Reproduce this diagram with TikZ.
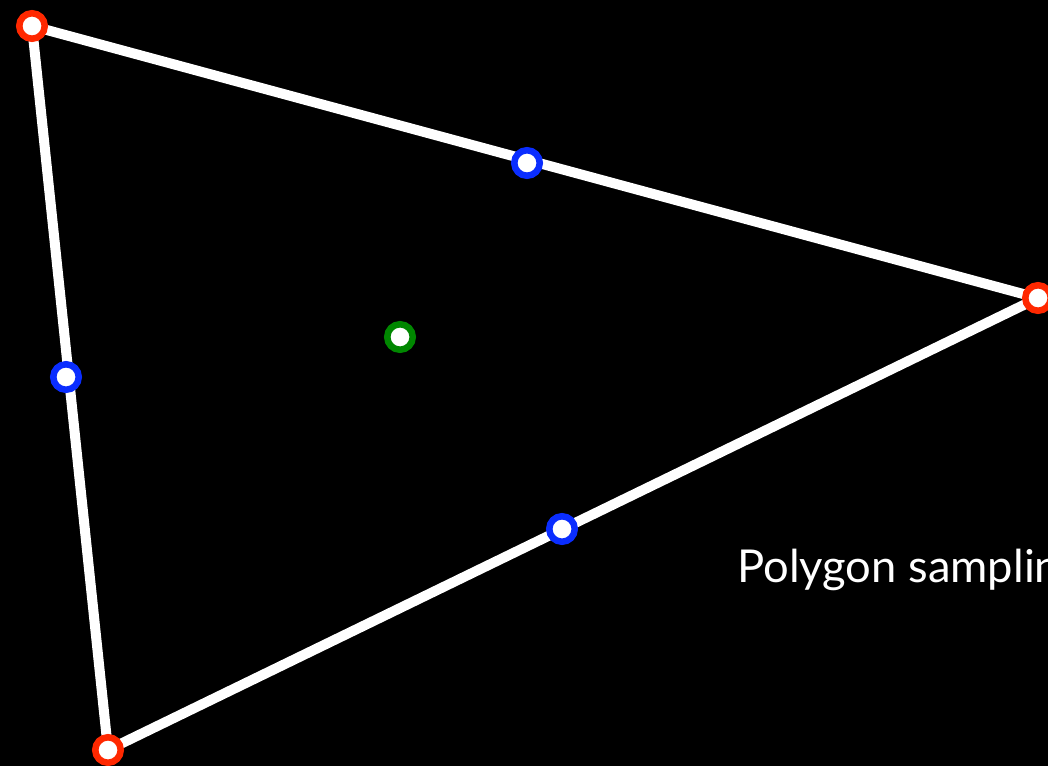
\documentclass[tikz,border=0pt]{standalone}
\usepackage{fontspec}
\setmainfont{Lato}
\definecolor{vred}{RGB}{255,40,0}
\definecolor{vblue}{RGB}{10,45,255}
\definecolor{vgreen}{RGB}{0,135,0}
\begin{document}
\begin{tikzpicture}[x=0.75pt,y=-0.75pt,
  ring/.style={circle, fill=white, line width=4.9pt, minimum size=19.1pt, inner sep=0pt},
  vtx/.style={ring, draw=vred},
  mid/.style={ring, draw=vblue},
  cen/.style={ring, draw=vgreen},
  edge/.style={white, line width=7.5pt}]
\fill[black] (0,0) rectangle (1048,766);
\useasboundingbox (0,0) rectangle (1048,766);
\clip (0,0) rectangle (1048,766);
\coordinate (A) at (32,26);
\coordinate (B) at (1038,298);
\coordinate (C) at (108,750);
\draw[edge] (A) -- (B) -- (C) -- cycle;
\node[vtx] (a) at (A) {};
\node[vtx] (b) at (B) {};
\node[vtx] (c) at (C) {};
\node[mid] (ab) at (527,163) {};
\node[mid] (ac) at (66,377) {};
\node[mid] (bc) at (562,529) {};
\node[cen] (g) at (400,337) {};
\node[anchor=base west, inner sep=0pt, text=white, font=\fontsize{34}{41}\selectfont] (t) at (737,582) {Polygon sampling};
\end{tikzpicture}
\end{document}
